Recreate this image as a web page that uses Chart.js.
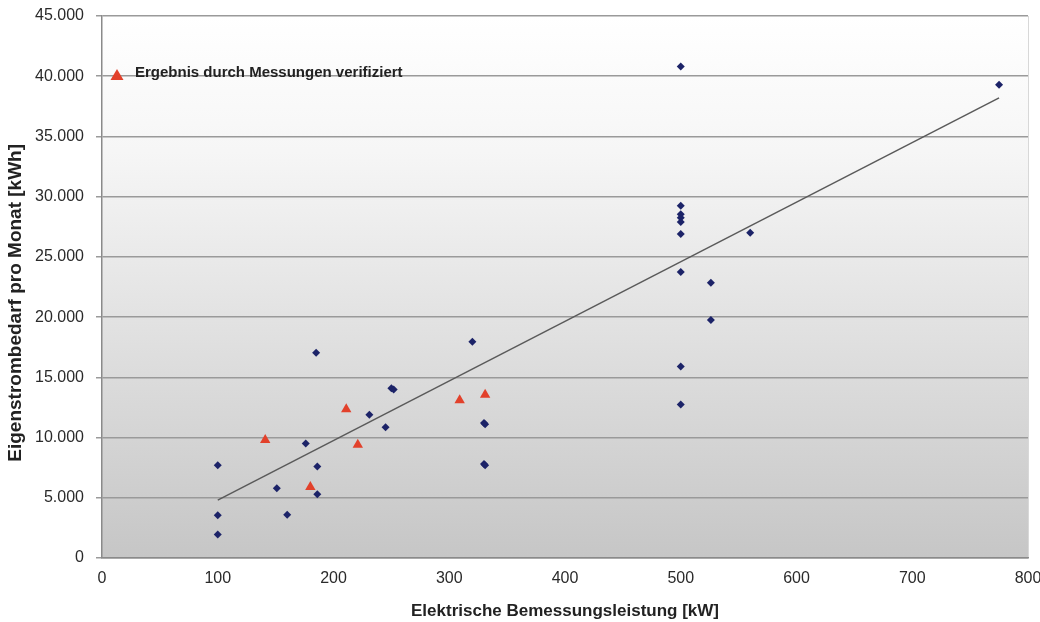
<!DOCTYPE html>
<html>
<head>
<meta charset="utf-8">
<script src="https://cdn.jsdelivr.net/npm/chart.js@4.4.0/dist/chart.umd.min.js"></script>
<style>
  html, body { margin: 0; padding: 0; background: #fff; }
  #wrap { width: 1040px; height: 622px; }
</style>
</head>
<body>
<div id="wrap"><canvas id="chart" width="1040" height="622"></canvas></div>
<script>
// Anlagen ohne Messung (blaue Rauten)
var blueX = [100, 100, 100, 151, 160, 176, 185, 186, 186, 231, 245, 250, 252, 320, 330, 331, 330, 331,
             500, 500, 500, 500, 500, 500, 500, 500, 500, 526, 526, 560, 775];
var blueY = [7700, 3550, 1950, 5800, 3600, 9500, 17050, 7600, 5300, 11900, 10850, 14100, 14000, 17950, 11200, 11100, 7800, 7700,
             40800, 29250, 28550, 28250, 27900, 26900, 23750, 15900, 12750, 22850, 19750, 27000, 39300];

// durch Messungen verifiziert (rote Dreiecke)
var redX = [141, 180, 211, 221, 309, 331];
var redY = [9800, 5900, 12350, 9400, 13100, 13550];

// Trendlinie
var trendX = [100, 775];
var trendY = [4800, 38200];

var yTicks = [0, 5000, 10000, 15000, 20000, 25000, 30000, 35000, 40000, 45000];
var xTicks = [0, 100, 200, 300, 400, 500, 600, 700, 800];

var legendText = 'Ergebnis durch Messungen verifiziert';
var FONT = '"Liberation Sans", Arial, sans-serif';

function pts(xs, ys) {
  return xs.map(function(x, i) { return { x: x, y: ys[i] }; });
}
function fmt(v) {
  return String(v).replace(/\B(?=(\d{3})+(?!\d))/g, '.');
}

var bgPlugin = {
  id: 'plotBg',
  beforeDraw: function(chart) {
    var a = chart.chartArea, c = chart.ctx;
    var g = c.createLinearGradient(0, a.top, 0, a.bottom);
    g.addColorStop(0, '#ffffff');
    g.addColorStop(0.25, '#f6f6f6');
    g.addColorStop(1, '#c6c6c6');
    c.save();
    c.fillStyle = g;
    c.fillRect(a.left, a.top, a.right - a.left, a.bottom - a.top);
    c.strokeStyle = '#d8d8d8';
    c.lineWidth = 1;
    c.beginPath();
    c.moveTo(a.right + 0.5, a.top);
    c.lineTo(a.right + 0.5, a.bottom);
    c.stroke();
    c.restore();
  }
};

var legendPlugin = {
  id: 'innerLegend',
  afterDraw: function(chart) {
    var c = chart.ctx, a = chart.chartArea;
    var x = a.left + 15, y = 75;
    c.save();
    c.fillStyle = '#e2412b';
    c.beginPath();
    c.moveTo(x, y - 6);
    c.lineTo(x + 6.5, y + 5);
    c.lineTo(x - 6.5, y + 5);
    c.closePath();
    c.fill();
    c.fillStyle = '#222';
    c.font = 'bold 15px ' + FONT;
    c.textBaseline = 'middle';
    c.fillText(legendText, x + 18, y - 2);
    c.restore();
  }
};

new Chart(document.getElementById('chart'), {
  type: 'scatter',
  data: {
    datasets: [
      {
        label: 'Trend',
        type: 'line',
        data: pts(trendX, trendY),
        borderColor: '#5a5a5a',
        borderWidth: 1.5,
        pointRadius: 0,
        fill: false,
        order: 3
      },
      {
        label: 'Anlagen',
        data: pts(blueX, blueY),
        pointStyle: 'rectRot',
        pointRadius: 4,
        backgroundColor: '#1c2368',
        borderColor: '#1c2368',
        borderWidth: 0,
        order: 2
      },
      {
        label: legendText,
        data: pts(redX, redY),
        pointStyle: 'triangle',
        pointRadius: 6,
        backgroundColor: '#e2412b',
        borderColor: '#e2412b',
        borderWidth: 0,
        order: 1
      }
    ]
  },
  options: {
    responsive: false,
    animation: false,
    layout: { padding: { top: 16, right: 0, left: 0, bottom: 0 } },
    plugins: {
      legend: { display: false },
      tooltip: { enabled: false }
    },
    scales: {
      x: {
        type: 'linear',
        min: 0, max: 800,
        afterBuildTicks: function(s) { s.ticks = xTicks.map(function(v) { return { value: v }; }); },
        afterFit: function(s) { s.height = 64; s.paddingLeft = 0; s.paddingRight = 12; },
        grid: { display: false, drawTicks: true, tickLength: 6, color: '#888' },
        border: { display: true, color: '#8a8a8a', width: 1.5 },
        ticks: { color: '#2a2a2a', font: { family: FONT, size: 16 }, padding: 5, maxRotation: 0 },
        title: {
          display: true,
          text: 'Elektrische Bemessungsleistung [kW]',
          color: '#222',
          font: { family: FONT, size: 17, weight: 'bold' },
          padding: { top: 2, bottom: 0 }
        }
      },
      y: {
        type: 'linear',
        min: 0, max: 45000,
        afterBuildTicks: function(s) { s.ticks = yTicks.map(function(v) { return { value: v }; }); },
        afterFit: function(s) { s.width = 102; s.paddingTop = 0; s.paddingBottom = 0; },
        grid: { color: '#9a9a9a', lineWidth: 1.5, drawTicks: true, tickLength: 6 },
        border: { display: true, color: '#8a8a8a', width: 1.5 },
        ticks: {
          color: '#2a2a2a',
          font: { family: FONT, size: 16 },
          padding: 12,
          callback: function(v) { return fmt(v); }
        },
        title: {
          display: true,
          text: 'Eigenstrombedarf pro Monat [kWh]      ',
          color: '#222',
          font: { family: FONT, size: 19, weight: 'bold' },
          padding: { top: 4, bottom: 0 }
        }
      }
    }
  },
  plugins: [bgPlugin, legendPlugin]
});
</script>
</body>
</html>
